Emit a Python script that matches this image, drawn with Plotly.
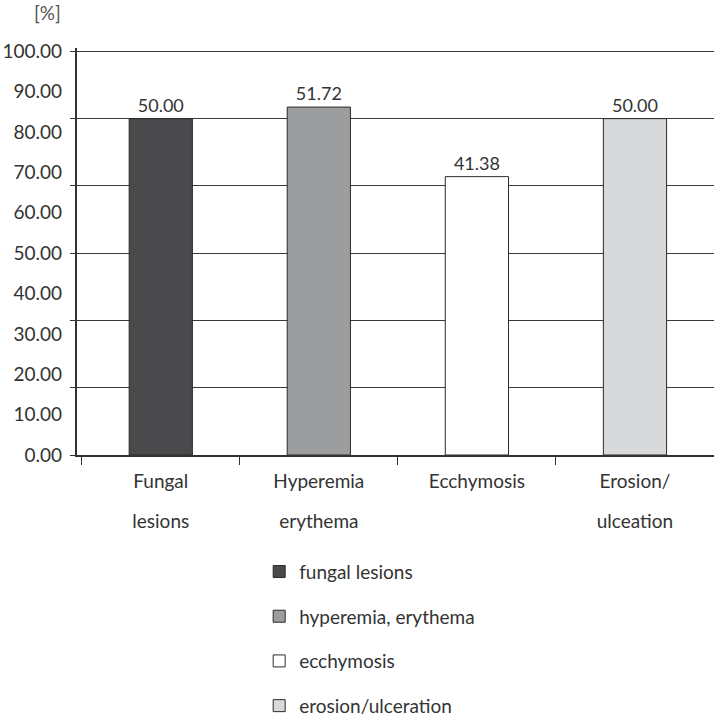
import plotly.graph_objects as go

categories = ["Fungal lesions", "Hyperemia erythema", "Ecchymosis", "Erosion/ulceation"]
tick_line1 = ["Fungal", "Hyperemia", "Ecchymosis", "Erosion/"]
tick_line2 = ["lesions", "erythema", "", "ulceation"]
legend_names = ["fungal lesions", "hyperemia, erythema", "ecchymosis", "erosion/ulceration"]
values = [50.00, 51.72, 41.38, 50.00]
colors = ["#4a4a4c", "#9c9d9f", "#ffffff", "#d8d9db"]
grid_vals = [0, 10, 20, 30, 40, 50, 60]
label_vals = [0, 10, 20, 30, 40, 50, 60, 70, 80, 90, 100]

FONT = "Lato"
INK = "#333333"
YTOP = 60.5  # a touch above 60 so the top gridline is drawn

fig = go.Figure()
for i, cat in enumerate(categories):
    fig.add_trace(go.Bar(
        x=[cat], y=[values[i]],
        name=legend_names[i], legendgroup=legend_names[i],
        width=0.4,
        marker=dict(color=colors[i], line=dict(color="#2b2b2b", width=1)),
        text=[f"{values[i]:.2f}"], textposition="outside",
        textfont=dict(family=FONT, size=18, color=INK),
        cliponaxis=False,
    ))

# invisible trace carrying the overlay axes (label axis and second line of category names)
fig.add_trace(go.Scatter(
    x=categories, y=[None] * len(categories),
    xaxis="x2", yaxis="y2", mode="markers",
    showlegend=False, hoverinfo="skip",
))

fig.update_layout(
    width=714, height=717,
    margin=dict(l=77, r=0, t=48, b=262, autoexpand=False),
    paper_bgcolor="white", plot_bgcolor="white",
    font=dict(family=FONT, size=19, color=INK),
    barmode="overlay",
    showlegend=True,
    legend=dict(
        x=0.286, y=-0.24, xanchor="left", yanchor="top",
        font=dict(family=FONT, size=19, color=INK),
        tracegroupgap=17, bgcolor="rgba(0,0,0,0)",
    ),
    xaxis=dict(
        type="category", categoryarray=categories,
        range=[-0.53, 3.5], automargin=False,
        tickmode="array", tickvals=categories, ticktext=tick_line1,
        tickson="boundaries", ticks="outside", ticklen=8, tickcolor=INK,
        ticklabelstandoff=8,
        showline=True, linecolor=INK, linewidth=1.5,
        showgrid=False, zeroline=False,
        tickfont=dict(family=FONT, size=19, color=INK),
    ),
    xaxis2=dict(
        type="category", categoryarray=categories,
        overlaying="x", side="bottom", matches="x", automargin=False,
        tickmode="array", tickvals=categories, ticktext=tick_line2,
        ticks="", ticklabelstandoff=53,
        showline=False, showgrid=False, zeroline=False,
        tickfont=dict(family=FONT, size=19, color=INK),
    ),
    yaxis=dict(
        range=[0, YTOP], automargin=False,
        tickmode="array", tickvals=grid_vals, showticklabels=False,
        ticks="outside", ticklen=5, tickcolor=INK,
        showgrid=True, gridcolor="#3a3a3a", gridwidth=1.2,
        showline=True, linecolor=INK, linewidth=1.5,
        zeroline=False,
    ),
    yaxis2=dict(
        range=[0, 100 * YTOP / 60], overlaying="y", side="left", automargin=False,
        tickmode="array", tickvals=label_vals,
        ticktext=[f"{v:.2f}" for v in label_vals],
        ticks="", ticklabelstandoff=14,
        showgrid=False, zeroline=False, showline=False,
        tickfont=dict(family=FONT, size=19, color=INK),
    ),
    annotations=[dict(
        text="[%]", xref="paper", yref="paper",
        x=-0.022, y=1.0, xanchor="right", yanchor="bottom", yshift=22,
        showarrow=False, font=dict(family=FONT, size=19, color="#555555"),
    )],
)

fig.write_html(
    "out.html",
    config={"displayModeBar": False},
    post_script="document.body.style.margin='0';",
)
